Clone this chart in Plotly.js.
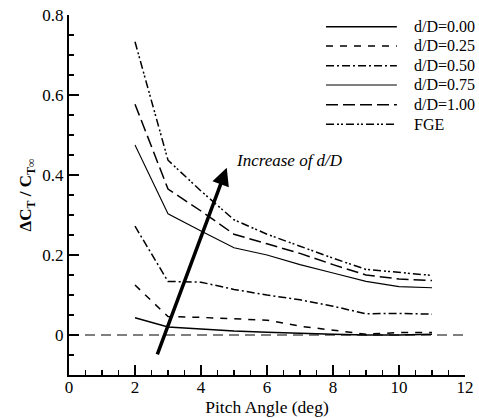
<!DOCTYPE html>
<html>
<head>
<meta charset="utf-8">
<script src="https://cdn.plot.ly/plotly-3.0.1.min.js"></script>
<style>html,body{margin:0;padding:0;background:#fff;}#chart{width:479px;height:418px;}</style>
</head>
<body>
<div id="chart"></div>
<script>
// Data
const pitch = [2, 3, 4, 5, 6, 7, 8, 9, 10, 11];
const dD000 = [0.043, 0.020, 0.015, 0.010, 0.007, 0.004, 0.002, 0.000, 0.000, 0.002];
const dD025 = [0.125, 0.046, 0.044, 0.041, 0.037, 0.022, 0.012, 0.002, 0.006, 0.006];
const dD050 = [0.272, 0.134, 0.132, 0.114, 0.100, 0.088, 0.072, 0.053, 0.054, 0.052];
const dD075 = [0.475, 0.303, 0.260, 0.218, 0.200, 0.176, 0.155, 0.134, 0.121, 0.118];
const dD100 = [0.577, 0.365, 0.310, 0.252, 0.228, 0.204, 0.176, 0.150, 0.140, 0.136];
const fge   = [0.733, 0.437, 0.360, 0.288, 0.252, 0.221, 0.192, 0.164, 0.156, 0.149];
const seriesNames = ["d/D=0.00", "d/D=0.25", "d/D=0.50", "d/D=0.75", "d/D=1.00", "FGE"];
const xTickVals = [0, 2, 4, 6, 8, 10, 12];
const yTickVals = [0, 0.2, 0.4, 0.6, 0.8];
const xMinorVals = [0.5,1,1.5,2.5,3,3.5,4.5,5,5.5,6.5,7,7.5,8.5,9,9.5,10.5,11,11.5];
const yMinorVals = [-0.1,-0.05,0.05,0.1,0.15,0.25,0.3,0.35,0.45,0.5,0.55,0.65,0.7,0.75];

const seriesData = [dD000, dD025, dD050, dD075, dD100, fge];
const styles = [
  {dash: "solid", width: 1.5},
  {dash: "7px,7px", width: 1.5},
  {dash: "8px,3px,2px,3px", width: 1.5},
  {dash: "solid", width: 1.1},
  {dash: "12px,5px", width: 1.5},
  {dash: "8px,3px,2px,2px,2px,3px", width: 1.5}
];

const traces = seriesData.map((ys, i) => ({
  x: pitch, y: ys, type: "scatter", mode: "lines", name: seriesNames[i],
  showlegend: false,
  line: {color: "#000", width: styles[i].width, dash: styles[i].dash}
}));

const font = "Liberation Serif";

// manual legend
const legX0 = 0.649, legX1 = 0.828, legTX = 0.866;
const legY = [0.9675, 0.9139, 0.8592, 0.8056, 0.7508, 0.6964];
const shapes = [{
  type: "line", xref: "x", yref: "y", x0: 0, x1: 12, y0: 0, y1: 0,
  line: {color: "#000", width: 1.2, dash: "10px,6px"}
}];
const annotations = [];
seriesNames.forEach((n, i) => {
  shapes.push({type: "line", xref: "paper", yref: "paper", x0: legX0, x1: legX1, y0: legY[i], y1: legY[i],
    line: {color: "#000", width: styles[i].width, dash: styles[i].dash}});
  annotations.push({xref: "paper", yref: "paper", x: legTX, y: legY[i], text: n, showarrow: false,
    xanchor: "left", yanchor: "middle", font: {family: font, size: 16, color: "#000"}});
});

annotations.push({
  x: 4.78, y: 0.418, ax: 2.66, ay: -0.052, axref: "x", ayref: "y", xref: "x", yref: "y",
  showarrow: true, arrowhead: 2, arrowsize: 1, arrowwidth: 3.5, arrowcolor: "#000", text: ""
});
annotations.push({
  x: 5.0, y: 0.4375, xref: "x", yref: "y", text: "<i>Increase of d/D</i>", showarrow: false,
  xanchor: "left", yanchor: "middle", font: {family: font, size: 17, color: "#000"}
});

const layout = {
  width: 479, height: 418,
  margin: {l: 69, r: 14, t: 15, b: 43},
  paper_bgcolor: "#fff", plot_bgcolor: "#fff",
  font: {family: font, color: "#000", size: 17},
  xaxis: {
    range: [0, 12], tickmode: "array", tickvals: xTickVals, ticks: "inside", ticklen: 10, tickwidth: 2,
    tickcolor: "#000000", ticklabelstandoff: -4,
    showline: true, linewidth: 2, linecolor: "#000", showgrid: false, zeroline: false,
    minor: {tickmode: "array", tickvals: xMinorVals, ticks: "inside", ticklen: 5, tickwidth: 1.5, tickcolor: "#000000", showgrid: false},
    tickfont: {family: font, size: 17},
    title: {text: "Pitch Angle (deg)", font: {family: font, size: 17.5}, standoff: 1}
  },
  yaxis: {
    range: [-0.1, 0.8], tickmode: "array", tickvals: yTickVals, ticks: "inside", ticklen: 10, tickwidth: 2,
    tickcolor: "#000000",
    showline: true, linewidth: 2, linecolor: "#000", showgrid: false, zeroline: false,
    minor: {tickmode: "array", tickvals: yMinorVals, ticks: "inside", ticklen: 5, tickwidth: 1.5, tickcolor: "#000000", showgrid: false},
    tickfont: {family: font, size: 17},
    title: {text: "<b>ΔC<sub>T</sub> / C<sub>T∞</sub></b>", font: {family: font, size: 17}, standoff: 6}
  },
  shapes: shapes,
  annotations: annotations,
  showlegend: false
};

Plotly.newPlot("chart", traces, layout, {displayModeBar: false, staticPlot: true});
</script>
</body>
</html>
